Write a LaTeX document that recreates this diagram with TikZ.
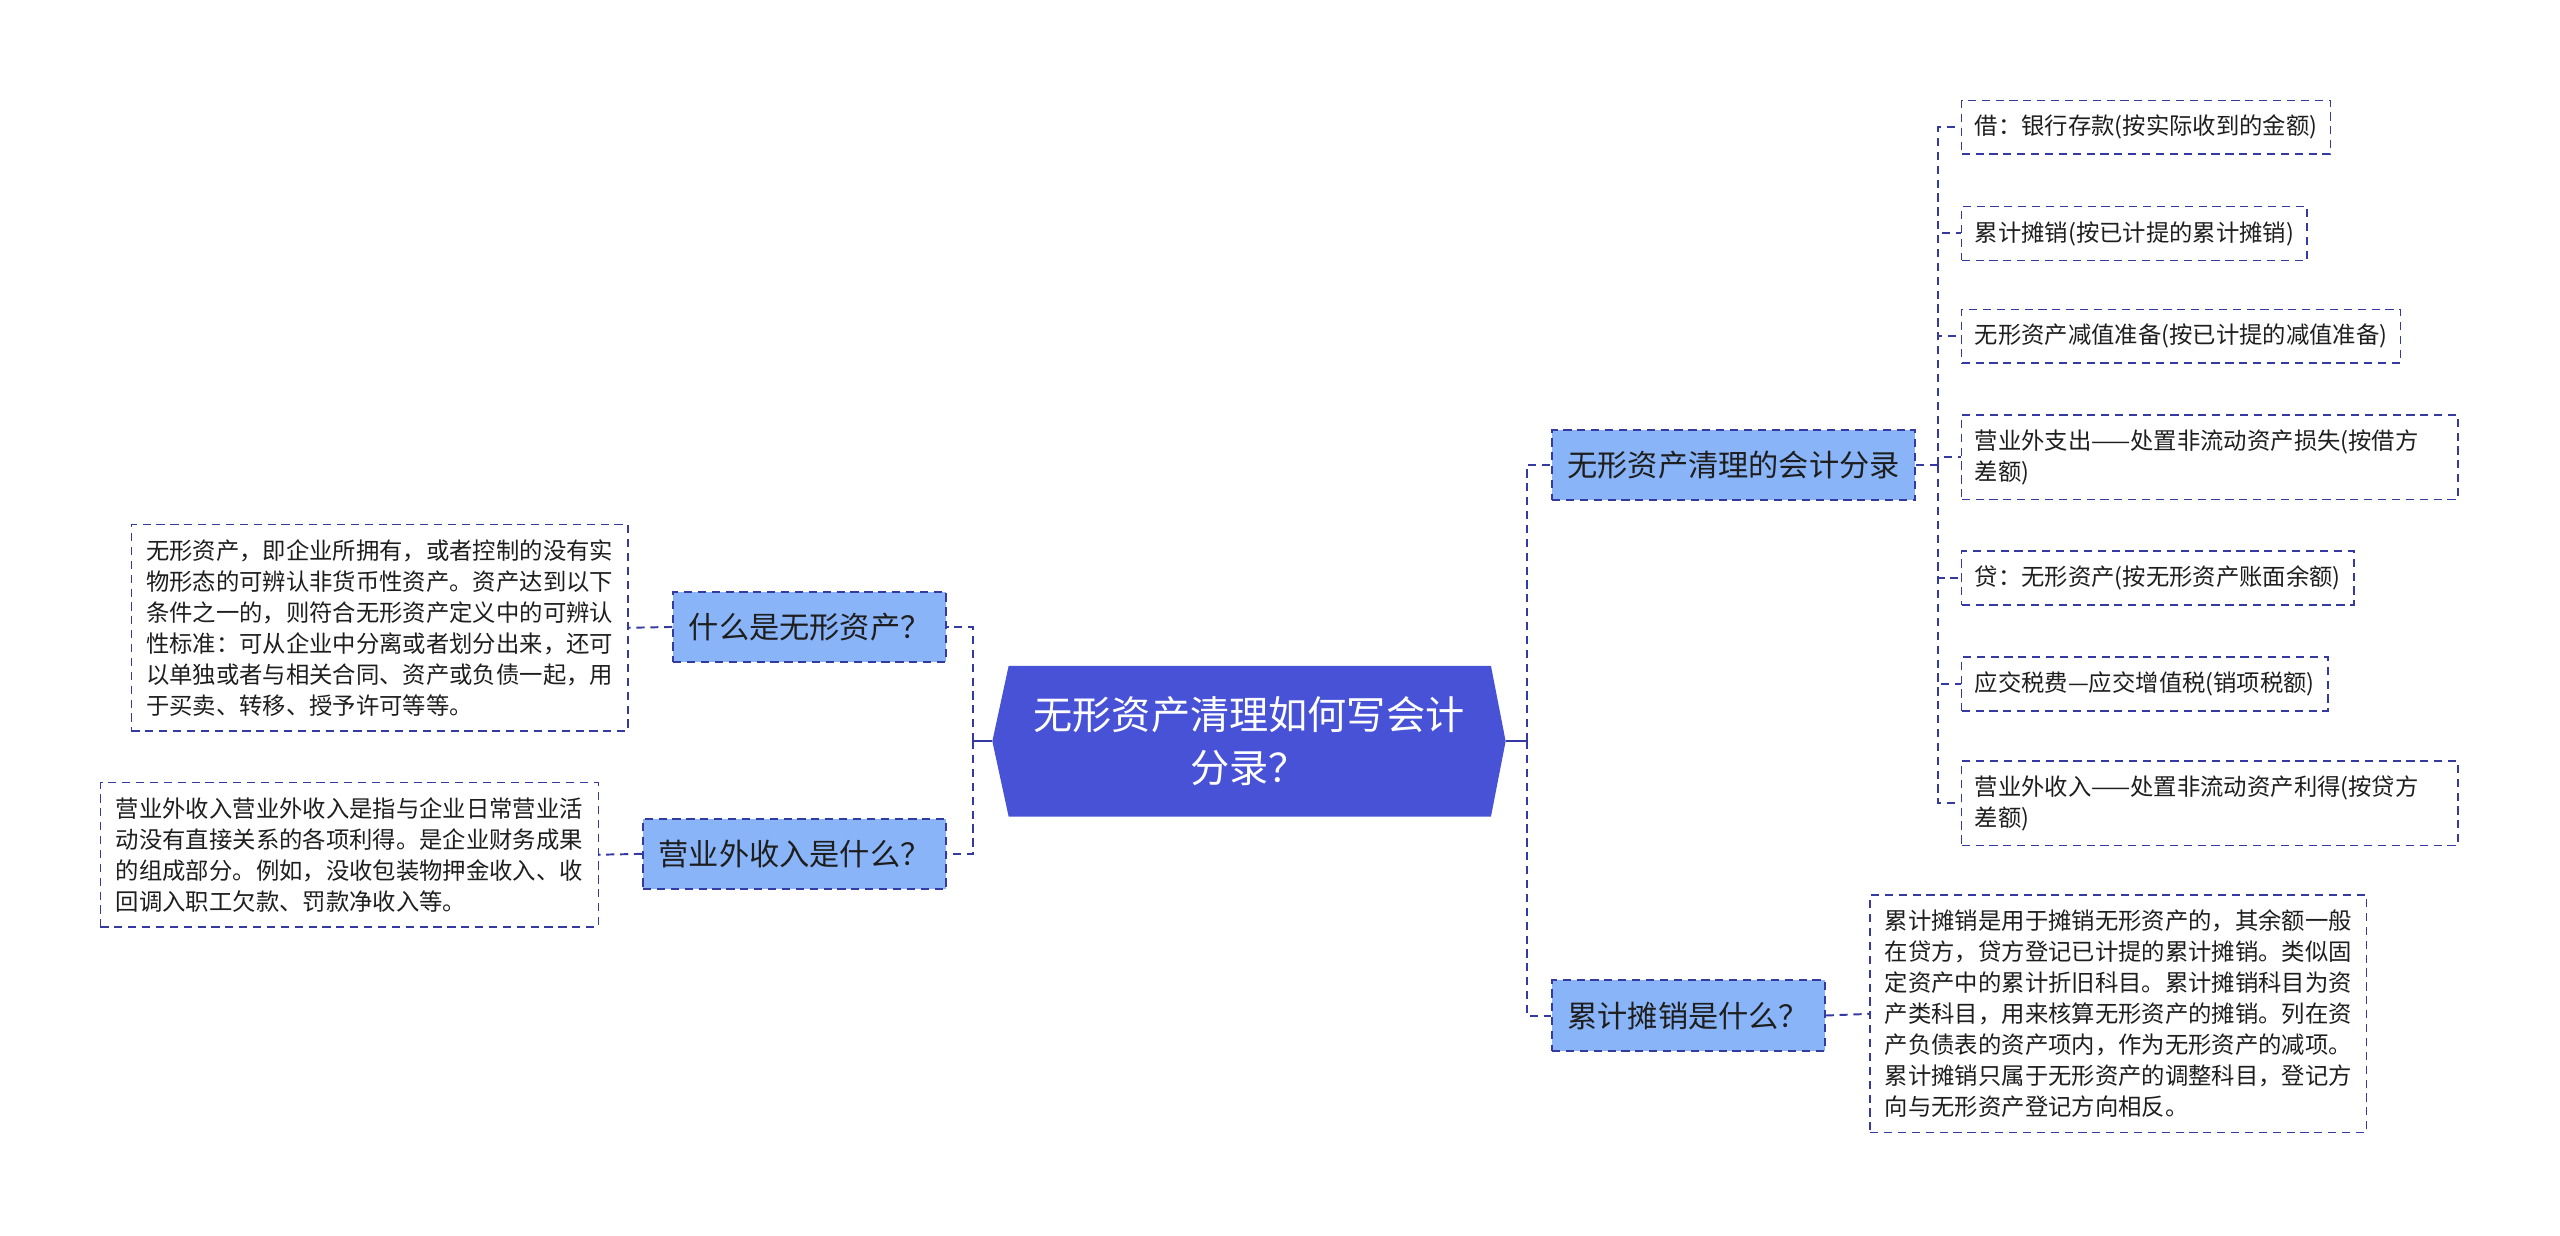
\documentclass[tikz,border=0pt]{standalone}
\usepackage{fontspec}
\setmainfont{Noto Sans CJK SC}
\usetikzlibrary{backgrounds}
\definecolor{rootblue}{RGB}{72,82,214}
\definecolor{topicblue}{RGB}{138,180,248}
\definecolor{lineblue}{RGB}{52,58,160}
\definecolor{ink}{RGB}{30,30,30}
\tikzset{
	link/.style={draw=lineblue, line width=1.2pt, dash pattern=on 5pt off 3.5pt},
	topic/.style={link, fill=topicblue, text=ink, font=\fontsize{18.5}{22}\selectfont, inner xsep=9.5pt, minimum height=43pt},
	leaf/.style={draw=lineblue, line width=1pt, dash pattern=on 5pt off 3.5pt, text=ink, font=\fontsize{14.3}{19}\selectfont, align=left, inner xsep=8pt, inner ysep=9pt, minimum height=33pt},
	plain/.style={},
	wide/.style={text width=288pt}
}
\begin{document}
\begin{tikzpicture}[x=1pt, y=-1pt]
	\useasboundingbox (0,0) rectangle (1568,757);
	\path (596,454) coordinate (jl) (935,454) coordinate (jr) (1187,285) coordinate (ja);
	% centre
	\node[text=white, font=\fontsize{24}{32}\selectfont, align=center, minimum width=314pt, minimum height=92pt] (root) at (765,454) {无形资产清理如何写会计\\分录？};
	\begin{scope}[on background layer]
		\fill[rootblue] (root.west) -- ([xshift=10pt]root.north west) -- ([xshift=-9pt]root.north east) -- (root.east) -- ([xshift=-9pt]root.south east) -- ([xshift=10pt]root.south west) -- cycle;
	\end{scope}
	% left
	\node[topic, anchor=east] (what) at (580,384) {什么是无形资产？};
	\node[topic, anchor=east] (income) at (580,523) {营业外收入是什么？};
	\node[leaf, anchor=east, text width=286pt, inner xsep=9pt] (whatnote) at (385,384.5) {无形资产，即企业所拥有，或者控制的没有实\\物形态的可辨认非货币性资产。资产达到以下\\条件之一的，则符合无形资产定义中的可辨认\\性标准：可从企业中分离或者划分出来，还可\\以单独或者与相关合同、资产或负债一起，用\\于买卖、转移、授予许可等等。};
	\node[leaf, anchor=east, text width=286pt, inner xsep=9.5pt] (incomenote) at (367,523.5) {营业外收入营业外收入是指与企业日常营业活\\动没有直接关系的各项利得。是企业财务成果\\的组成部分。例如，没收包装物押金收入、收\\回调入职工欠款、罚款净收入等。};
	% right
	\node[topic, anchor=west] (entry) at (950,285) {无形资产清理的会计分录};
	\node[topic, anchor=west] (amort) at (950,622) {累计摊销是什么？};
	\node[leaf, anchor=west, text width=286pt, inner xsep=9pt] (amortnote) at (1145,621) {累计摊销是用于摊销无形资产的，其余额一般\\在贷方，贷方登记已计提的累计摊销。类似固\\定资产中的累计折旧科目。累计摊销科目为资\\产类科目，用来核算无形资产的摊销。列在资\\产负债表的资产项内，作为无形资产的减项。\\累计摊销只属于无形资产的调整科目，登记方\\向与无形资产登记方向相反。};
	\draw[lineblue, line width=1.2pt] (root.west) -- (jl) (root.east) -- (jr);
	\draw[link] (jl) |- (what.east) (jl) |- (income.east);
	\draw[link] (jr) |- (entry.west) (jr) |- (amort.west);
	\draw[link] (what.west) -- (whatnote.east) (income.west) -- (incomenote.east) (amort.east) -- (amortnote.west);
	\draw[link] (entry.east) -- (ja);
	\foreach \y/\s/\t [count=\i] in {78/plain/{借：银行存款(按实际收到的金额)}, 143/plain/{累计摊销(按已计提的累计摊销)}, 206/plain/{无形资产减值准备(按已计提的减值准备)}, 280/wide/{营业外支出——处置非流动资产损失(按借方\\差额)}, 354/plain/{贷：无形资产(按无形资产账面余额)}, 419/plain/{应交税费—应交增值税(销项税额)}, 492/wide/{营业外收入——处置非流动资产利得(按贷方\\差额)}}{
		\node[leaf, \s, anchor=west] (entry\i) at (1201,\y) {\t};
		\draw[link] (ja) |- (entry\i.west);
	}
\end{tikzpicture}
\end{document}
